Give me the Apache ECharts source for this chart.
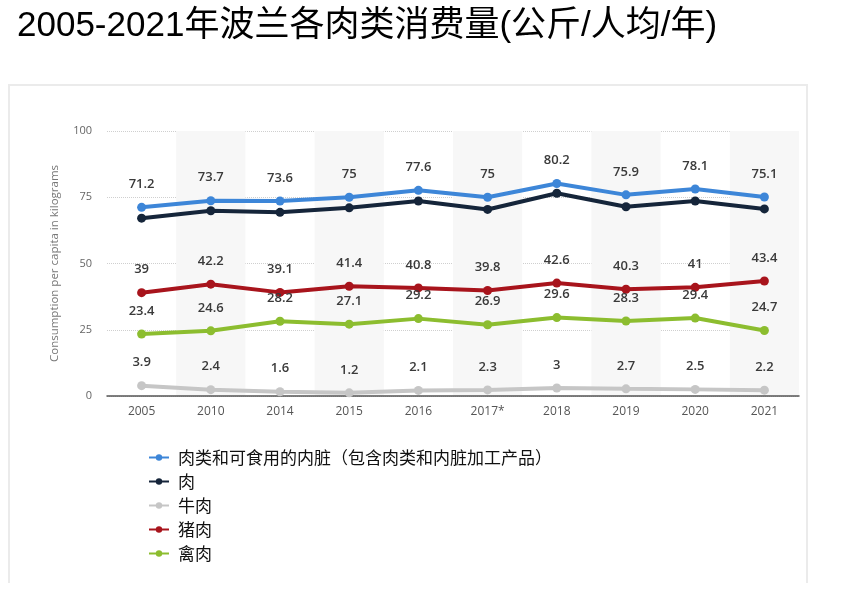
<!DOCTYPE html>
<html>
<head>
<meta charset="utf-8">
<script src="https://cdn.jsdelivr.net/npm/echarts@6/dist/echarts.min.js"></script>
<style>
  html, body { margin: 0; padding: 0; background: #fff; }
  #chart { width: 859px; height: 601px; }
</style>
</head>
<body>
<div id="chart"></div>
<script>
const years = ['2005', '2010', '2014', '2015', '2016', '2017*', '2018', '2019', '2020', '2021'];
const yTicks = [0, 25, 50, 75, 100];

const offalTotal = [71.2, 73.7, 73.6, 75, 77.6, 75, 80.2, 75.9, 78.1, 75.1];
const meat = [67.1, 69.9, 69.3, 71, 73.6, 70.4, 76.5, 71.4, 73.6, 70.6];
const beef = [3.9, 2.4, 1.6, 1.2, 2.1, 2.3, 3, 2.7, 2.5, 2.2];
const pork = [39, 42.2, 39.1, 41.4, 40.8, 39.8, 42.6, 40.3, 41, 43.4];
const poultry = [23.4, 24.6, 28.2, 27.1, 29.2, 26.9, 29.6, 28.3, 29.4, 24.7];

const names = ['肉类和可食用的内脏（包含肉类和内脏加工产品）', '肉', '牛肉', '猪肉', '禽肉'];
const colors = ['#3d86d8', '#15253a', '#c6c6c6', '#a8141c', '#8cbd2f'];

function makeSeries(name, data, color, showLabel) {
    return {
        name: name,
        type: 'line',
        data: data,
        symbol: 'circle',
        symbolSize: 9,
        lineStyle: { width: 4, color: color },
        itemStyle: { color: color },
        label: {
            show: showLabel,
            position: 'top',
            distance: 12,
            color: '#3a3a3a',
            fontSize: 13,
            fontWeight: 600,
            fontFamily: 'Open Sans, sans-serif'
        },
        emphasis: { disabled: true },
        animation: false
    };
}

const chart = echarts.init(document.getElementById('chart'), null, { renderer: 'canvas' });

chart.setOption({
    backgroundColor: '#ffffff',
    animation: false,
    color: colors,
    title: {
        text: '2005-2021年波兰各肉类消费量(公斤/人均/年)',
        left: 12,
        top: 4,
        textStyle: {
            color: '#000',
            fontSize: 35,
            fontWeight: 'normal',
            fontFamily: 'Liberation Sans, Noto Sans CJK SC, sans-serif'
        }
    },
    // panel frame: left, top and right edges only
    graphic: [{
        type: 'polyline',
        z: -10,
        shape: { points: [[9, 583], [9, 85], [807, 85], [807, 583]] },
        style: { fill: null, stroke: '#ebebeb', lineWidth: 2 }
    }],
    grid: { left: 107, right: 60, top: 131, bottom: 205 },
    legend: {
        orient: 'vertical',
        left: 143,
        top: 444,
        itemWidth: 20,
        itemHeight: 8,
        itemGap: 7,
        data: names,
        textStyle: {
            color: '#111',
            fontSize: 17,
            lineHeight: 17,
            padding: [0, 0, 0, 4],
            fontFamily: 'Noto Sans CJK SC, sans-serif'
        }
    },
    xAxis: {
        type: 'category',
        data: years,
        boundaryGap: true,
        axisLine: { lineStyle: { color: '#555', width: 1.5 } },
        axisTick: { show: false },
        axisLabel: { color: '#555', fontSize: 12, margin: 10, fontFamily: 'Open Sans, sans-serif' },
        splitArea: { show: true, areaStyle: { color: ['rgba(0,0,0,0)', '#f7f7f7'] } }
    },
    yAxis: {
        type: 'value',
        min: yTicks[0],
        max: yTicks[yTicks.length - 1],
        interval: 25,
        name: 'Consumption per capita in kilograms',
        nameLocation: 'middle',
        nameGap: 46,
        nameTextStyle: { color: '#777', fontSize: 11.5, fontFamily: 'Open Sans, sans-serif' },
        axisLine: { show: false },
        axisTick: { show: false },
        axisLabel: { color: '#666', fontSize: 11, margin: 15, fontFamily: 'Open Sans, sans-serif' },
        splitLine: { show: true, lineStyle: { color: '#cfcfcf', type: 'dotted', width: 1 } }
    },
    series: [
        makeSeries(names[0], offalTotal, colors[0], true),
        makeSeries(names[1], meat, colors[1], false),
        makeSeries(names[2], beef, colors[2], true),
        makeSeries(names[3], pork, colors[3], true),
        makeSeries(names[4], poultry, colors[4], true)
    ]
});
</script>
</body>
</html>
